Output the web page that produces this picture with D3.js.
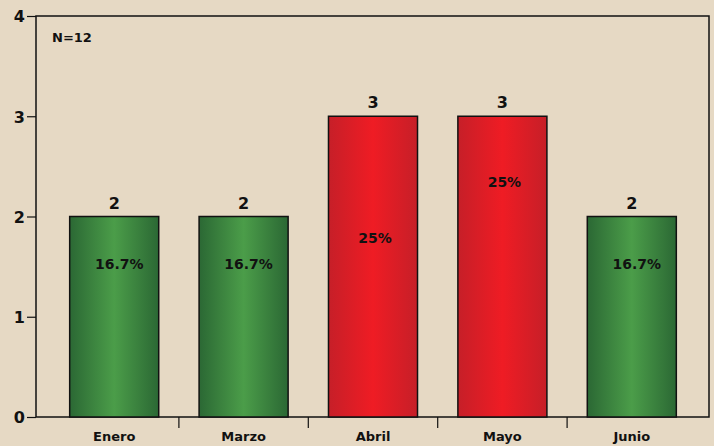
<!DOCTYPE html>
<html><head><meta charset="utf-8">
<script src="https://cdn.jsdelivr.net/npm/d3@7"></script>
<style>
html,body{margin:0;padding:0;background:#e6d9c4;}
svg{display:block;}
text{font-family:"DejaVu Sans",Verdana,sans-serif;font-weight:bold;fill:#111;}
</style></head>
<body><svg id="c" width="714" height="446"></svg>
<script>
const categories = ["Enero","Marzo","Abril","Mayo","Junio"];
const values = [2,2,3,3,2];
const percentLabels = ["16.7%","16.7%","25%","25%","16.7%"];
const percentLabelLevel = [1.48,1.48,1.74,2.29,1.48];
const colorGroup = ["green","green","red","red","green"];
const yTicks = [0,1,2,3,4];
const note = "N=12";

const W=714,H=446;
const plot={left:36,top:16,right:709,bottom:417};
const svg=d3.select("#c");
const defs=svg.append("defs");
function grad(id,edge,mid){
  const g=defs.append("linearGradient").attr("id",id).attr("x1","0%").attr("x2","100%").attr("y1","0%").attr("y2","0%");
  g.append("stop").attr("offset","0%").attr("stop-color",edge);
  g.append("stop").attr("offset","50%").attr("stop-color",mid);
  g.append("stop").attr("offset","100%").attr("stop-color",edge);
}
grad("green","#2b6834","#4b9d49");
grad("red","#c61f28","#ef1c24");

const y=d3.scaleLinear().domain([0,4]).range([plot.bottom,plot.top]);
const x=d3.scaleBand().domain(categories).range([49.5,696.5]).paddingInner(0.312).paddingOuter(0.156);
const xb=d3.scaleBand().domain(categories).range([49.5,696.5]);

// plot frame
svg.append("rect").attr("x",plot.left).attr("y",plot.top).attr("width",plot.right-plot.left).attr("height",plot.bottom-plot.top)
  .attr("fill","none").attr("stroke","#111").attr("stroke-width",1.5);

// y axis
const yAxis=svg.append("g").attr("transform",`translate(${plot.left},0)`)
  .call(d3.axisLeft(y).tickValues(yTicks).tickFormat(d3.format("d")).tickSize(9).tickPadding(2));
yAxis.select(".domain").remove();
yAxis.selectAll("line").attr("stroke","#111").attr("stroke-width",1.2);
yAxis.selectAll("text").style("font-size","16px").attr("fill","#111").attr("dy","0.36em");

// x axis ticks between categories
const xAxis=svg.append("g").attr("transform",`translate(0,${plot.bottom})`)
  .call(d3.axisBottom(xb).tickSize(0).tickPadding(15));
xAxis.select(".domain").remove();
xAxis.selectAll("text").style("font-size","13px").attr("fill","#111").attr("dy","0.71em");
svg.append("g").selectAll("line").data(categories.slice(1)).join("line")
  .attr("x1",d=>xb(d)).attr("x2",d=>xb(d)).attr("y1",plot.bottom).attr("y2",plot.bottom+11)
  .attr("stroke","#111").attr("stroke-width",1.2);

// bars
const data=categories.map((c,i)=>({c,v:values[i],p:percentLabels[i],pl:percentLabelLevel[i],g:colorGroup[i]}));
svg.append("g").selectAll("rect").data(data).join("rect")
  .attr("x",d=>x(d.c)).attr("width",x.bandwidth())
  .attr("y",d=>y(d.v)).attr("height",d=>y(0)-y(d.v))
  .attr("fill",d=>`url(#${d.g})`).attr("stroke","#111").attr("stroke-width",1.5);

// value labels
svg.append("g").selectAll("text").data(data).join("text")
  .attr("x",d=>x(d.c)+x.bandwidth()/2).attr("y",d=>y(d.v)-8)
  .attr("text-anchor","middle").style("font-size","16px").text(d=>d.v);

// percent labels
svg.append("g").selectAll("text").data(data).join("text")
  .attr("x",d=>x(d.c)+x.bandwidth()/2+(d.p.length>3?5:2)).attr("y",d=>y(d.pl))
  .attr("text-anchor","middle").style("font-size","14px").text(d=>d.p);

// note
svg.append("text").attr("x",52).attr("y",42).style("font-size","13px").text(note);
</script></body></html>
